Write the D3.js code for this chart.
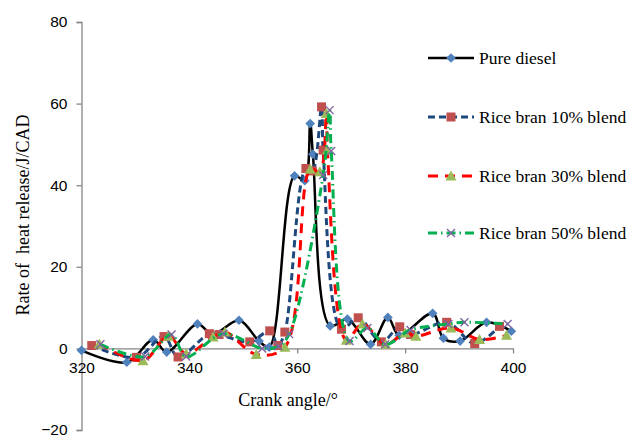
<!DOCTYPE html>
<html>
<head>
    <title>Rate of heat release</title>
    <script src="https://cdn.jsdelivr.net/npm/d3@7"></script>
    <style>
    body{ margin:0; background:#fff; }
    svg{ display:block; }
    </style>
</head>
<body>
    <svg width="628" height="437"></svg>
    <script>
        // crank angle / rate of heat release
        var dieselX = [320, 328.4, 333.3, 335.8, 341.5, 344.3, 349.2, 352.9, 354.8, 359.5, 361.4, 362.4, 362.9, 366.1, 369.3, 373.6, 376.8, 378.9, 385.1, 387.1, 390.2, 395.1, 399.7];
        var dieselY = [-0.5, -3.4, 2.1, -0.9, 6.0, 3.4, 6.9, 1.8, 0.3, 42.3, 41.1, 55.1, 47.6, 5.5, 7.2, 1.0, 7.6, 3.2, 8.6, 2.5, 1.8, 6.4, 4.2];

        var rb10X = [321.9, 330.2, 335.3, 337.9, 343.7, 345.5, 351.2, 354.9, 356.4, 357.7, 361.6, 362.8, 364.5, 364.8, 368.2, 371.3, 375.6, 379.0, 381.0, 387.7, 392.9, 397.5];
        var rb10Y = [0.7, -2.2, 2.9, -2.1, 3.6, 3.4, 1.6, 4.3, 0.7, 4.0, 44.1, 43.5, 59.2, 48.6, 4.7, 7.5, 1.6, 5.3, 3.4, 6.4, 1.2, 5.4];

        var rb30X = [323.3, 331.4, 336.1, 339.4, 344.4, 346.6, 352.4, 357.7, 362.4, 364.2, 365.4, 365.6, 369.1, 372.1, 376.4, 380.0, 382.0, 388.5, 393.8, 398.8];
        var rb30Y = [1.1, -3.0, 3.0, -1.3, 2.8, 4.0, -1.5, 0.3, 43.9, 43.3, 57.6, 48.6, 2.0, 6.0, 1.0, 3.8, 3.0, 5.0, 2.2, 3.2];

        var rb50X = [323.5, 331.8, 336.7, 339.4, 346.3, 353.5, 356.5, 358.5, 364.8, 366.0, 366.3, 369.7, 373.0, 376.3, 381.0, 388.0, 391.0, 399.0];
        var rb50Y = [1.0, -2.0, 3.4, -2.0, 3.6, 0.0, 0.5, 3.5, 42.5, 58.4, 48.4, 1.8, 5.0, 1.0, 4.5, 6.0, 6.4, 6.0];

        var xTicks = [320, 340, 360, 380, 400];
        var yTicks = [-20, 0, 20, 40, 60, 80];

        var series = [
            {name: "Pure diesel", xs: dieselX, ys: dieselY, line: "#000000", dash: null, width: 2.5, marker: "diamond", fill: "#4F81BD"},
            {name: "Rice bran 10% blend", xs: rb10X, ys: rb10Y, line: "#1F497D", dash: "7,4", width: 3, marker: "square", fill: "#C0504D"},
            {name: "Rice bran 30% blend", xs: rb30X, ys: rb30Y, line: "#FF0000", dash: "10,7", width: 3, marker: "triangle", fill: "#9BBB59"},
            {name: "Rice bran 50% blend", xs: rb50X, ys: rb50Y, line: "#00B050", dash: "9,4,1.5,4", width: 3, marker: "x", fill: "#8064A2"}
        ];

        var svg = d3.select("svg");
        var x = d3.scaleLinear().domain([320, 400]).range([81.5, 513]);
        var y = d3.scaleLinear().domain([-20, 80]).range([430, 22]);
        var axisColor = "#868686";

        // y axis
        var yAxis = svg.append("g")
            .attr("transform", "translate(" + x(320) + ",0)")
            .call(d3.axisLeft(y).tickValues(yTicks).tickSize(5).tickPadding(9));
        yAxis.select(".domain").attr("stroke", axisColor).attr("stroke-width", 1.3);
        yAxis.selectAll(".tick line").attr("stroke", axisColor).attr("stroke-width", 1.3);
        yAxis.selectAll("text").attr("font-family", "Liberation Sans, Arial, sans-serif")
            .attr("font-size", "15.5px").attr("fill", "#000");

        // x axis sits on y = 0
        var xAxis = svg.append("g")
            .attr("transform", "translate(0," + y(0) + ")")
            .call(d3.axisBottom(x).tickValues(xTicks).tickSize(5).tickPadding(9).tickSizeOuter(0));
        xAxis.select(".domain").attr("stroke", axisColor).attr("stroke-width", 1.3);
        xAxis.selectAll(".tick line").attr("stroke", axisColor).attr("stroke-width", 1.3);
        xAxis.selectAll("text").attr("font-family", "Liberation Sans, Arial, sans-serif")
            .attr("font-size", "15.5px").attr("fill", "#000");

        var serif = "Liberation Serif, Times New Roman, serif";
        svg.append("text")
            .attr("x", 288).attr("y", 406)
            .attr("text-anchor", "middle")
            .attr("font-family", serif).attr("font-size", "18px")
            .text("Crank angle/°");
        svg.append("text")
            .attr("transform", "translate(29,215) rotate(-90)")
            .attr("text-anchor", "middle")
            .attr("font-family", serif).attr("font-size", "18px")
            .attr("xml:space", "preserve")
            .style("white-space", "pre")
            .text("Rate of  heat release/J/CAD");

        function drawMarker(g, kind, fill, cx, cy){
            if(kind == "diamond"){
                g.append("path").attr("d", d3.symbol().type(d3.symbolDiamond2).size(60)())
                    .attr("transform", "translate(" + cx + "," + cy + ")").attr("fill", fill);
            } else if(kind == "square"){
                g.append("rect").attr("x", cx - 4.5).attr("y", cy - 4.5)
                    .attr("width", 9).attr("height", 9).attr("fill", fill);
            } else if(kind == "triangle"){
                g.append("path").attr("d", "M0,-5.5L5.5,4.5L-5.5,4.5Z")
                    .attr("transform", "translate(" + cx + "," + cy + ")").attr("fill", fill);
            } else {
                g.append("path").attr("d", "M-4,-4L4,4M-4,4L4,-4")
                    .attr("transform", "translate(" + cx + "," + cy + ")")
                    .attr("stroke", fill).attr("stroke-width", 1.4).attr("fill", "none");
            }
        }

        var line = d3.line().curve(d3.curveCatmullRom.alpha(0.5))
            .x(function(d){ return x(d[0]); })
            .y(function(d){ return y(d[1]); });

        series.forEach(function(s){
            var pts = s.xs.map(function(v, i){ return [v, s.ys[i]]; });
            var g = svg.append("g");
            g.append("path").datum(pts)
                .attr("d", line)
                .attr("fill", "none")
                .attr("stroke", s.line)
                .attr("stroke-width", s.width)
                .attr("stroke-dasharray", s.dash);
            pts.forEach(function(p){ drawMarker(g, s.marker, s.fill, x(p[0]), y(p[1])); });
        });

        // legend
        var legY = [58, 117, 176, 233];
        series.forEach(function(s, i){
            var g = svg.append("g");
            g.append("line")
                .attr("x1", 428).attr("x2", 474)
                .attr("y1", legY[i]).attr("y2", legY[i])
                .attr("stroke", s.line).attr("stroke-width", s.width)
                .attr("stroke-dasharray", s.dash);
            drawMarker(g, s.marker, s.fill, 451, legY[i]);
            g.append("text")
                .attr("x", 479).attr("y", legY[i] + 6)
                .attr("font-family", serif).attr("font-size", "17.5px")
                .text(s.name);
        });
    </script>
</body>
</html>
